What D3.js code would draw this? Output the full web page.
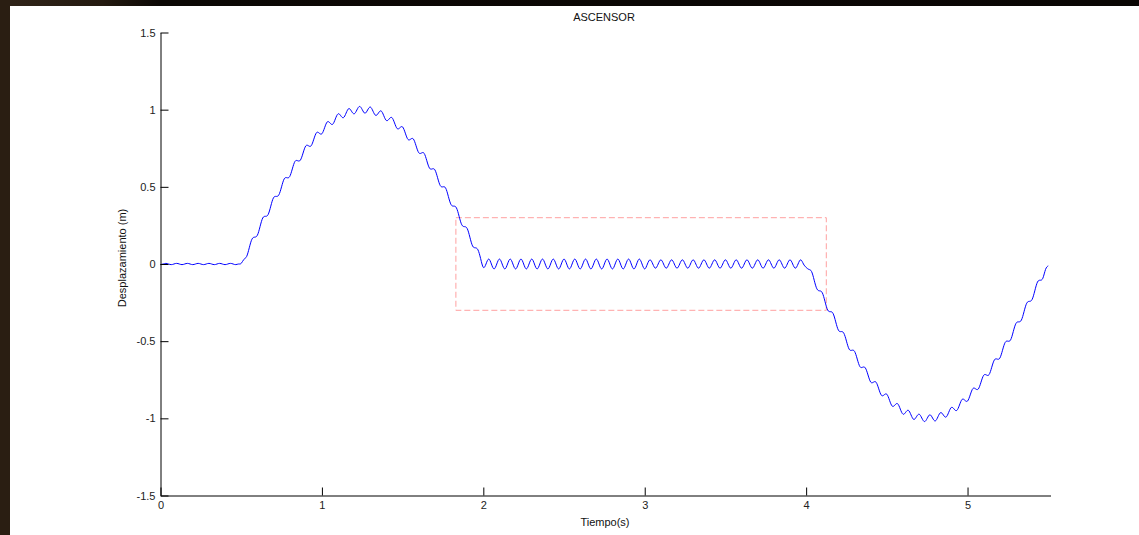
<!DOCTYPE html>
<html>
<head>
<meta charset="utf-8">
<script src="https://cdn.jsdelivr.net/npm/d3@7"></script>
<style>
    body { margin: 0; background: #fff; }
    svg { display: block; font-family: "Liberation Sans", Arial, Helvetica, sans-serif; }
</style>
</head>
<body>
<svg width="1139" height="535"></svg>
<script>
// displacement samples, one every 1/60 s
var sampleRate = 60;

// 0 - 0.5 s : at rest, tiny wiggle
var restSamples = [
    -0.004, 0, 0.004, 0, -0.004, 0, 0.004, 0, -0.004, 0, 0.004, 0, -0.004, 0, 0.004, 0,
    -0.004, 0, 0.004, 0, -0.004, 0, 0.004, 0, -0.004, 0, 0.004, 0, -0.004, 0
];

// 0.5 - 2 s : going up and back
var riseSamples = [
    0.004, 0.030, 0.048, 0.105, 0.161, 0.174, 0.186, 0.242, 0.298, 0.309,
    0.320, 0.375, 0.429, 0.438, 0.448, 0.500, 0.552, 0.559, 0.566, 0.616,
    0.665, 0.669, 0.673, 0.719, 0.765, 0.766, 0.766, 0.809, 0.851, 0.848,
    0.844, 0.883, 0.921, 0.914, 0.905, 0.940, 0.973, 0.961, 0.948, 0.978,
    1.007, 0.990, 0.973, 0.998, 1.021, 1.000, 0.977, 0.998, 1.017, 0.990,
    0.963, 0.978, 0.992, 0.961, 0.929, 0.940, 0.949, 0.914, 0.877, 0.883,
    0.888, 0.848, 0.807, 0.809, 0.810, 0.766, 0.721, 0.719, 0.717, 0.669,
    0.621, 0.616, 0.610, 0.559, 0.508, 0.500, 0.492, 0.438, 0.385, 0.375,
    0.364, 0.309, 0.254, 0.242, 0.230, 0.174, 0.117, 0.105, 0.092, 0.035,
    -0.022
];

// 2 - 4 s : stopped, oscillating
var holdSamples = [
    0, 0.032, 0, -0.032, 0, 0.032, 0, -0.032, 0, 0.032, 0, -0.032, 0, 0.032, 0, -0.032,
    0, 0.032, 0, -0.032, 0, 0.032, 0, -0.032, 0, 0.032, 0, -0.032, 0, 0.032, 0, -0.032,
    0, 0.032, 0, -0.032, 0, 0.032, 0, -0.032, 0, 0.032, 0, -0.032, 0, 0.032, 0, -0.032,
    0, 0.032, 0, -0.032, 0, 0.032, 0, -0.032, 0, 0.032, 0, -0.032,
    0, 0.027, 0, -0.027, 0, 0.027, 0, -0.027, 0, 0.027, 0, -0.027, 0, 0.027, 0, -0.027,
    0, 0.027, 0, -0.027, 0, 0.027, 0, -0.027, 0, 0.027, 0, -0.027, 0, 0.027, 0, -0.027,
    0, 0.027, 0, -0.027, 0, 0.027, 0, -0.027, 0, 0.027, 0, -0.027, 0, 0.027, 0, -0.027,
    0, 0.027, 0, -0.027, 0, 0.027, 0, -0.027, 0, 0.027, 0
];

// 4 - 5.5 s : going down and back
var fallSamples = [
    -0.022, -0.035, -0.048, -0.105, -0.161, -0.174, -0.186, -0.242, -0.298, -0.309,
    -0.320, -0.375, -0.429, -0.438, -0.448, -0.500, -0.552, -0.559, -0.566, -0.616,
    -0.665, -0.669, -0.673, -0.719, -0.765, -0.766, -0.766, -0.809, -0.851, -0.848,
    -0.844, -0.883, -0.921, -0.914, -0.905, -0.940, -0.973, -0.961, -0.948, -0.978,
    -1.007, -0.990, -0.973, -0.998, -1.021, -1.000, -0.977, -0.998, -1.017, -0.990,
    -0.963, -0.978, -0.992, -0.961, -0.929, -0.940, -0.949, -0.914, -0.877, -0.883,
    -0.888, -0.848, -0.807, -0.809, -0.810, -0.766, -0.721, -0.719, -0.717, -0.669,
    -0.621, -0.616, -0.610, -0.559, -0.508, -0.500, -0.492, -0.438, -0.385, -0.375,
    -0.364, -0.309, -0.254, -0.242, -0.230, -0.174, -0.117, -0.105, -0.092, -0.035,
    -0.012
];

// highlighted zone (dashed box)
var zoneTime = [1.83, 4.125];
var zoneDisp = [-0.3, 0.3];

var xTicks = [0, 1, 2, 3, 4, 5];
var yTicks = [-1.5, -1, -0.5, 0, 0.5, 1, 1.5];
var xDomain = [0, 5.514];
var yDomain = [-1.5, 1.5];

var titleText = "ASCENSOR";
var xLabel = "Tiempo(s)";
var yLabel = "Desplazamiento (m)";

var svg = d3.select("svg"),
    width = +svg.attr("width"),
    height = +svg.attr("height");

// dark frame around the figure (screenshot border)
var defs = svg.append("defs");
var grad = defs.append("linearGradient").attr("id", "topband");
grad.append("stop").attr("offset", "0").attr("stop-color", "#31251a");
grad.append("stop").attr("offset", "0.09").attr("stop-color", "#241a10");
grad.append("stop").attr("offset", "0.14").attr("stop-color", "#0c0805");
grad.append("stop").attr("offset", "1").attr("stop-color", "#0a0604");

svg.append("rect").attr("x", 0).attr("y", 0).attr("width", width).attr("height", 6)
    .attr("fill", "url(#topband)");
svg.append("rect").attr("x", 0).attr("y", 0).attr("width", 10).attr("height", height)
    .attr("fill", "#2a1e12");

var x = d3.scaleLinear().domain(xDomain).range([160.5, 1050.5]);
var y = d3.scaleLinear().domain(yDomain).range([495.5, 32.5]);

var points = [].concat(restSamples, riseSamples, holdSamples, fallSamples)
    .map(function(v, i) { return { t: i / sampleRate, v: v }; });

// dashed box
svg.append("rect")
    .attr("x", x(zoneTime[0]))
    .attr("y", y(zoneDisp[1]))
    .attr("width", x(zoneTime[1]) - x(zoneTime[0]))
    .attr("height", y(zoneDisp[0]) - y(zoneDisp[1]))
    .attr("fill", "none")
    .attr("stroke", "#ffa0a0")
    .attr("stroke-width", 1)
    .attr("stroke-dasharray", "6,3");

// displacement line
var line = d3.line()
    .x(function(d) { return x(d.t); })
    .y(function(d) { return y(d.v); })
    .curve(d3.curveNatural);

svg.append("path")
    .datum(points)
    .attr("d", line)
    .attr("fill", "none")
    .attr("stroke", "#0000ff")
    .attr("stroke-width", 1);

// axes, ticks pointing inward like matlab
var xAxis = d3.axisBottom(x)
    .tickValues(xTicks)
    .tickFormat(function(d) { return String(d); })
    .tickSizeInner(-8)
    .tickSizeOuter(0)
    .tickPadding(6);

var yAxis = d3.axisLeft(y)
    .tickValues(yTicks)
    .tickFormat(function(d) { return String(d); })
    .tickSizeInner(-8)
    .tickSizeOuter(0)
    .tickPadding(5);

var gx = svg.append("g")
    .attr("transform", "translate(0," + y(yDomain[0]) + ")")
    .call(xAxis);

var gy = svg.append("g")
    .attr("transform", "translate(" + x(xDomain[0]) + ",0)")
    .call(yAxis);

[gx, gy].forEach(function(g) {
    g.selectAll("path, line").attr("stroke", "#000");
    g.selectAll("text")
        .attr("fill", "#222")
        .style("font-size", "11px")
        .style("font-family", "'Liberation Sans', Arial, sans-serif");
});

// texts
svg.append("text")
    .attr("x", 604)
    .attr("y", 21)
    .attr("text-anchor", "middle")
    .attr("fill", "#111")
    .style("font-size", "11px")
    .text(titleText);

svg.append("text")
    .attr("x", 605)
    .attr("y", 526)
    .attr("text-anchor", "middle")
    .attr("fill", "#111")
    .style("font-size", "11px")
    .text(xLabel);

svg.append("text")
    .attr("transform", "translate(126,258) rotate(-90)")
    .attr("text-anchor", "middle")
    .attr("fill", "#111")
    .style("font-size", "11px")
    .text(yLabel);
</script>
</body>
</html>
